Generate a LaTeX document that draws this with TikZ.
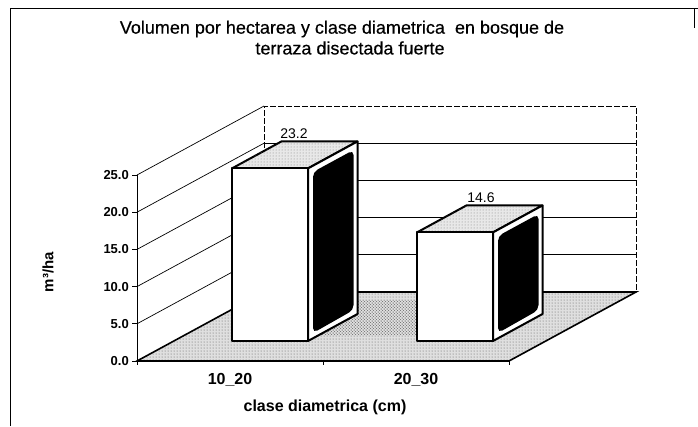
\documentclass[tikz,border=0pt]{standalone}
\usepackage{fontspec}
\setmainfont{Liberation Sans}
\newfontfamily\titlefont{Liberation Sans}[FakeBold=0.4]
\usetikzlibrary{patterns}
\begin{document}
\begin{tikzpicture}[x=1pt,y=-1pt,
  frameline/.style={line width=0.9pt,black},
  gridline/.style={line width=0.7pt,black},
  wallback/.style={line width=0.7pt,dash pattern=on 6pt off 2pt,black},
  flooredge/.style={line width=1.6pt,black},
  barface/.style={draw=black,line width=2pt,line join=round},
  ticklab/.style={font=\bfseries\fontsize{13}{15}\selectfont,anchor=east,inner sep=0pt},
  catlab/.style={font=\bfseries\fontsize{16}{18}\selectfont,inner sep=0pt},
  vallab/.style={font=\fontsize{14}{16}\selectfont,inner sep=0pt},
  titlelab/.style={font=\titlefont\fontsize{18}{21}\selectfont,inner sep=0pt}]
\useasboundingbox (0,0) rectangle (698,426);
\fill[white] (0,0) rectangle (698,426);
% frame
\draw[frameline] (10,426) -- (10,8) -- (698,8);
\draw[frameline] (694,8) -- (694,28);
% title
\node[titlelab] (t1) at (342,29) {Volumen por hectarea y clase diametrica\ \ en bosque de};
\node[titlelab] (t2) at (350,48) {terraza disectada fuerte};
% floor
\coordinate (f0) at (137,361);
\coordinate (f1) at (509,361);
\coordinate (f2) at (636,292);
\coordinate (f3) at (264,292);
\fill[gray!25] (f0) -- (f1) -- (f2) -- (f3) -- cycle;
\fill[pattern=dots,pattern color=gray!70!black] (f0) -- (f1) -- (f2) -- (f3) -- cycle;
\fill[pattern=crosshatch dots,pattern color=black!60] (300,335) -- (420,335) -- (445,300) -- (330,300) -- cycle;
% back wall
\fill[white] (264,106) rectangle (636,292);
\foreach \k in {1,2,3,4} {
  \draw[gridline] (264,{292-37.2*\k}) -- (636,{292-37.2*\k});
}
\draw[wallback] (264,292) -- (264,106) -- (636,106) -- (636,292);
% left wall diagonal gridlines
\foreach \k in {1,2,3,4,5} {
  \draw[gridline] (137,{361-37.2*\k}) -- (264,{292-37.2*\k});
}
% floor edges
\draw[flooredge] (f0) -- (f1) -- (f2) -- (f3) -- cycle;
% y axis
\draw[gridline] (137,175) -- (137,361);
\foreach \k/\lab in {0/0.0,1/5.0,2/10.0,3/15.0,4/20.0,5/25.0} {
  \draw[gridline] (132,{361-37.2*\k}) -- (137,{361-37.2*\k});
  \node[ticklab] (yl\k) at (129,{361-37.2*\k}) {\lab};
}
% category ticks
\foreach \x in {137,323,509} { \draw[gridline] (\x,361) -- (\x,365); }
% bar 1
\filldraw[barface,fill=gray!18] (232,168.4) -- (308,168.4) -- (357.5,141.4) -- (281.5,141.4) -- cycle;
\fill[pattern=dots,pattern color=gray] (232,168.4) -- (308,168.4) -- (357.5,141.4) -- (281.5,141.4) -- cycle;
\filldraw[barface,fill=white] (308,168.4) -- (357.5,141.4) -- (357.5,314) -- (308,341) -- cycle;
\fill[black,rounded corners=5pt] (313,172) -- (353.5,150) -- (353.5,310) -- (313,333) -- cycle;
\filldraw[barface,fill=white] (232,168.4) rectangle (308,341);
% bar 2
\filldraw[barface,fill=gray!18] (417,232.4) -- (493,232.4) -- (542.5,205.4) -- (466.5,205.4) -- cycle;
\fill[pattern=dots,pattern color=gray] (417,232.4) -- (493,232.4) -- (542.5,205.4) -- (466.5,205.4) -- cycle;
\filldraw[barface,fill=white] (493,232.4) -- (542.5,205.4) -- (542.5,314) -- (493,341) -- cycle;
\fill[black,rounded corners=5pt] (498,236) -- (538.5,214) -- (538.5,310) -- (498,333) -- cycle;
\filldraw[barface,fill=white] (417,232.4) rectangle (493,341);
% value labels
\node[vallab] (v1) at (294,134) {23.2};
\node[vallab] (v2) at (481,198) {14.6};
% category labels
\node[catlab] (c1) at (230,380) {10\_20};
\node[catlab] (c2) at (416,380) {20\_30};
\node[font=\bfseries\fontsize{16}{18}\selectfont,inner sep=0pt] (xt) at (325,407) {clase diametrica (cm)};
\node[font=\bfseries\fontsize{15}{17}\selectfont,inner sep=0pt,rotate=90] (yt) at (48,272) {m³/ha};
\end{tikzpicture}
\end{document}
